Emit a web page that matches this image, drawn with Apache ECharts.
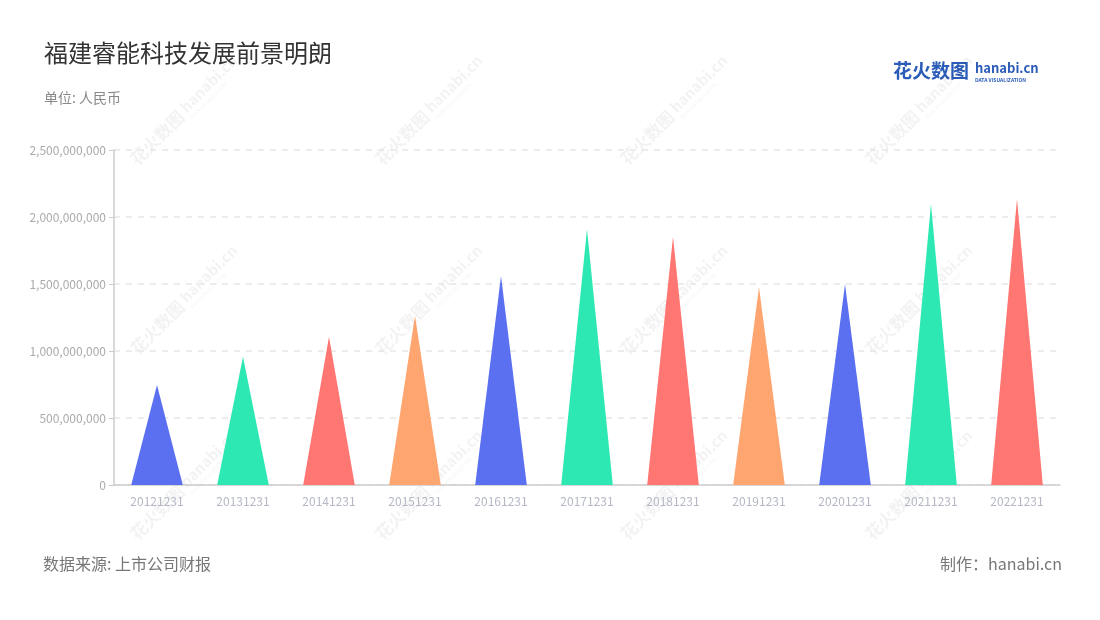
<!DOCTYPE html>
<html>
<head>
<meta charset="utf-8">
<script src="https://cdn.jsdelivr.net/npm/echarts@6/dist/echarts.min.js"></script>
<style>
html,body{margin:0;padding:0;background:#fff;}
#chart{width:1100px;height:620px;}
</style>
</head>
<body>
<div id="chart"></div>
<script>
const categories = ['20121231','20131231','20141231','20151231','20161231','20171231','20181231','20191231','20201231','20211231','20221231'];
const values = [746000000, 957000000, 1107000000, 1263000000, 1560000000, 1908000000, 1853000000, 1475000000, 1498000000, 2097000000, 2134000000];
const palette = ['#5b70f0', '#2de8b2', '#ff7672', '#ffa570'];
const titleText = '福建睿能科技发展前景明朗';
const unitText = '单位: 人民币';
const sourceText = '数据来源: 上市公司财报';
const makerText = '制作：hanabi.cn';

const font = '"Noto Sans CJK SC", "Noto Sans", sans-serif';
const chart = echarts.init(document.getElementById('chart'), null, {renderer: 'canvas'});

const wmCols = [170, 415, 660, 905];
const wmRows = [125, 315, 500];
const watermarks = [];
wmCols.forEach(x => wmRows.forEach(y => {
  watermarks.push({
    type: 'group', x: x, y: y, rotation: Math.PI / 4, silent: true, z: 100,
    children: [
      {type: 'text', style: {text: '花火数图', x: -52, y: 0, font: 'bold 17px ' + font, fill: 'rgba(0,0,0,0.05)', textVerticalAlign: 'middle'}},
      {type: 'text', style: {text: 'hanabi.cn', x: 20, y: -2, font: 'bold 15px ' + font, fill: 'rgba(0,0,0,0.05)', textVerticalAlign: 'middle'}},
      {type: 'text', style: {text: 'DATA VISUALIZATION', x: 20, y: 10, font: '5px ' + font, fill: 'rgba(0,0,0,0.05)', textVerticalAlign: 'middle'}}
    ]
  });
}));

const option = {
  backgroundColor: '#fff',
  animation: false,
  title: [
    {text: titleText, left: 39, top: 36, textStyle: {fontFamily: font, fontSize: 24, fontWeight: 'normal', color: '#333'}},
    {text: unitText, left: 39, top: 86, textStyle: {fontFamily: font, fontSize: 14, fontWeight: 'normal', color: '#888'}}
  ],
  grid: {left: 114, right: 40, top: 150, bottom: 135, containLabel: false},
  xAxis: {
    type: 'category',
    data: categories,
    axisLine: {lineStyle: {color: '#ccc', width: 1.5}},
    axisTick: {alignWithLabel: true, lineStyle: {color: '#ccc'}},
    axisLabel: {color: '#b4b8c4', fontSize: 12, fontFamily: font, margin: 10}
  },
  yAxis: {
    type: 'value',
    min: 0, max: 2500000000, interval: 500000000,
    axisLine: {show: true, lineStyle: {color: '#ccc', width: 1.5}},
    axisTick: {show: true, length: 5, lineStyle: {color: '#ccc'}},
    axisLabel: {color: '#aaa', fontSize: 12, fontFamily: font, margin: 8,
      formatter: v => v.toLocaleString('en-US')},
    splitLine: {lineStyle: {color: '#e6e6e6', type: [6, 6], width: 1.5}}
  },
  series: [{
    type: 'pictorialBar',
    barCategoryGap: '40%',
    symbol: 'path://M0,100 L50,0 L100,100 Z',
    symbolSize: ['100%', '100%'],
    itemStyle: {color: p => palette[p.dataIndex % palette.length]},
    data: values
  }],
  graphic: [
    {type: 'text', left: 43, top: 556, style: {text: sourceText, font: '16px ' + font, fill: '#777'}},
    {type: 'text', right: 38, top: 556, style: {text: makerText, font: '16px ' + font, fill: '#777'}},
    {type: 'text', left: 893, top: 61, style: {text: '花火数图', font: 'bold 19px ' + font, fill: '#2b5cb8'}},
    {type: 'text', left: 975, top: 62, style: {text: 'hanabi.cn', font: 'bold 13px ' + font, fill: '#2b5cb8'}},
    {type: 'text', left: 975, top: 78, style: {text: 'DATA VISUALIZATION', font: 'bold 5px ' + font, fill: '#2b5cb8'}}
  ].concat(watermarks)
};
chart.setOption(option);
</script>
</body>
</html>
